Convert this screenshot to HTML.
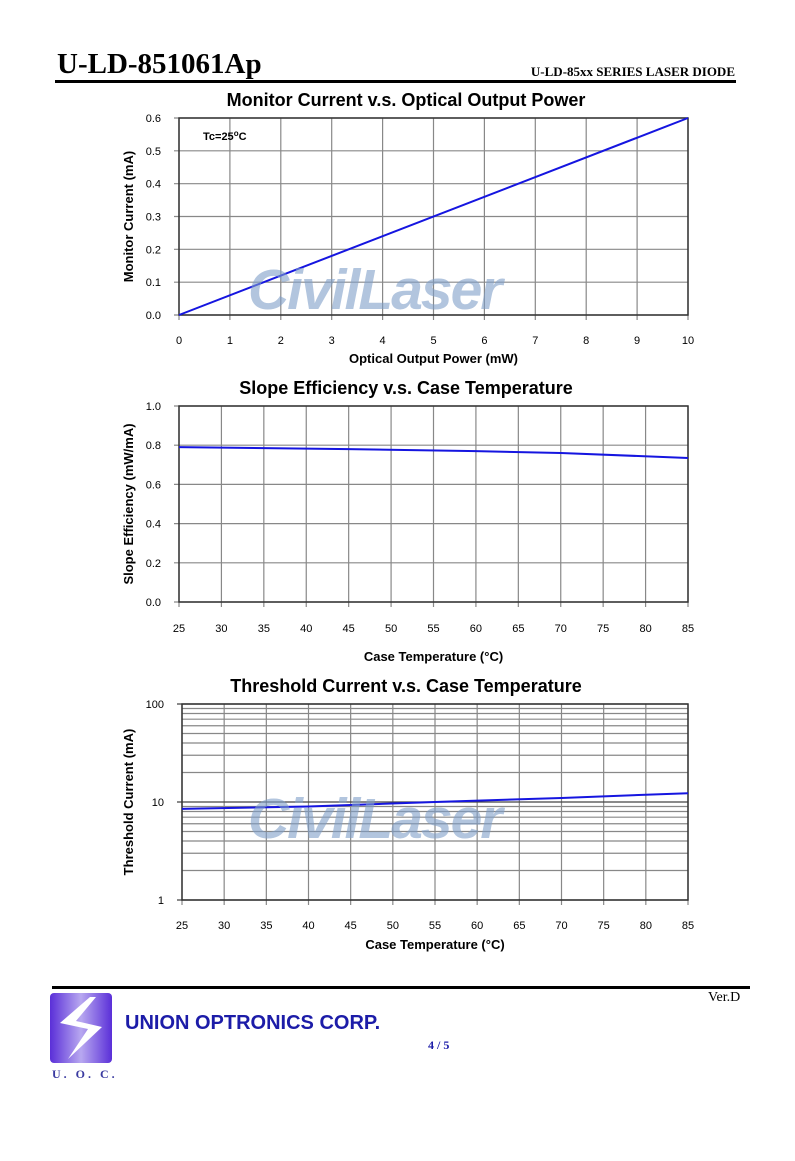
<!DOCTYPE html>
<html><head><meta charset="utf-8"><style>
body{margin:0;background:#fff;}
#root{position:relative;width:795px;height:1161px;overflow:hidden;background:#fff;font-family:"Liberation Sans",sans-serif;}
.abs{position:absolute;}
</style></head><body>
<div id="root">
<div class="abs" style="left:57px;top:48px;font:bold 29px 'Liberation Serif',serif;color:#000;">U-LD-851061Ap</div>
<div class="abs" style="right:60px;top:64px;font:bold 13px 'Liberation Serif',serif;">U-LD-85xx SERIES LASER DIODE</div>
<div class="abs" style="left:55px;top:80px;width:681px;height:3px;background:#000;"></div>
<svg class="abs" style="left:0;top:0" width="795" height="1000" id="charts"></svg>
<div class="abs" style="left:52px;top:986px;width:698px;height:3px;background:#000;"></div>
<div class="abs" style="left:708px;top:990px;font:14px 'Liberation Serif',serif;">Ver.D</div>
<svg class="abs" style="left:50px;top:993px" width="62" height="70">
<defs><linearGradient id="lg" x1="0" x2="1"><stop offset="0" stop-color="#5a2fd8"/><stop offset="0.5" stop-color="#b8a8f0"/><stop offset="1" stop-color="#5a2fd8"/></linearGradient></defs>
<rect x="0" y="0" width="62" height="70" rx="4" fill="url(#lg)"/>
<polygon points="40,4 10,30 38,36 18,66 52,34 26,28 46,4" fill="#fff"/>
</svg>
<div class="abs" style="left:52px;top:1067px;font:bold 12px 'Liberation Serif',serif;color:#3a3aa0;letter-spacing:3px;">U. O. C.</div>
<div class="abs" style="left:125px;top:1012px;font:bold 20px 'Liberation Sans',sans-serif;color:#1c1ca8;">UNION OPTRONICS CORP.</div>
<div class="abs" style="left:428px;top:1038px;font:bold 12px 'Liberation Serif',serif;color:#1c1ca8;">4 / 5</div>
</div>
<script>
const c1X=[0,10];const c1Y=[0,0.6];
const c1Xticks=[0,1,2,3,4,5,6,7,8,9,10];const c1Yticks=[0,0.1,0.2,0.3,0.4,0.5,0.6];
const c2X=[25,45,60,70,85];const c2Y=[0.79,0.78,0.77,0.76,0.735];
const c2Xticks=[25,30,35,40,45,50,55,60,65,70,75,80,85];const c2Yticks=[0,0.2,0.4,0.6,0.8,1.0];
const c3X=[25,40,55,70,85];const c3Y=[8.5,9,10,11,12.3];
const c3Xticks=[25,30,35,40,45,50,55,60,65,70,75,80,85];const c3Yticks=[1,10,100];
const NS="http://www.w3.org/2000/svg";
const svg=document.getElementById('charts');
function mk(t,a,p){const e=document.createElementNS(NS,t);for(const k in a)e.setAttribute(k,a[k]);(p||svg).appendChild(e);return e;}
function txt(x,y,s,a,p){const e=mk('text',Object.assign({x:x,y:y,'font-family':'Liberation Sans, sans-serif'},a),p);e.textContent=s;return e;}
function chart(o){
 const g=mk('g',{});
 
 
 const sx=v=>o.L+(v-o.xmin)/(o.xmax-o.xmin)*(o.R-o.L);
 const sy=o.log?(v=>o.B-(Math.log10(v)-Math.log10(o.ymin))/(Math.log10(o.ymax)-Math.log10(o.ymin))*(o.B-o.T)):(v=>o.B-(v-o.ymin)/(o.ymax-o.ymin)*(o.B-o.T));
 if(o.log){for(let d=1;d<100;d*=10)for(let m=2;m<=9;m++){const l=mk('line',{x1:o.L,x2:o.R,y1:sy(d*m),y2:sy(d*m),stroke:'#888','stroke-width':1.2},g);}}
 o.xt.forEach(v=>{const l=mk('line',{x1:sx(v),x2:sx(v),y1:o.T,y2:o.B+5,stroke:'#888','stroke-width':1.2},g);
  const t=txt(sx(v),o.xly,String(v),{'font-size':11,'text-anchor':'middle'},g);});
 o.yt.forEach(v=>{const l=mk('line',{x1:o.L-5,x2:o.R,y1:sy(v),y2:sy(v),stroke:o.log?'#444':'#888','stroke-width':1.2},g);
  const t=txt(o.L-18,sy(v)+4,o.fmt(v),{'font-size':11,'text-anchor':'end'},g);});
 const f=mk('rect',{x:o.L,y:o.T,width:o.R-o.L,height:o.B-o.T,fill:'none',stroke:'#333','stroke-width':1.5},g);
 const p=mk('polyline',{points:o.xs.map((x,i)=>sx(x)+','+sy(o.ys[i])).join(' '),fill:'none',stroke:'#1515e0','stroke-width':2},g);
 const tt=txt(406,o.T-12,o.title,{'font-size':18,'font-weight':'bold','text-anchor':'middle'},g);
 const xt=txt((o.L+o.R)/2,o.xty,o.xtitle,{'font-size':13,'font-weight':'bold','text-anchor':'middle'},g);
 const yc=(o.T+o.B)/2;const yt=txt(133,yc,o.ytitle,{'font-size':13,'font-weight':'bold','text-anchor':'middle',transform:'rotate(-90 133 '+yc+')'},g);
 return g;
}
chart({name:'monitor-current-chart',L:179,R:688,T:118,B:315,xmin:0,xmax:10,ymin:0,ymax:0.6,xt:c1Xticks,yt:c1Yticks,xs:c1X,ys:c1Y,fmt:v=>v.toFixed(1),xly:344,xty:363,title:'Monitor Current v.s. Optical Output Power',xtitle:'Optical Output Power (mW)',ytitle:'Monitor Current (mA)'});
const tc=txt(203,140,'Tc=25',{'font-size':11,'font-weight':'bold'});
const ts=mk('tspan',{dy:-4,'font-size':8},tc);ts.textContent='o';const ts2=mk('tspan',{dy:4},tc);ts2.textContent='C';
chart({name:'slope-efficiency-chart',L:179,R:688,T:406,B:602,xmin:25,xmax:85,ymin:0,ymax:1,xt:c2Xticks,yt:c2Yticks,xs:c2X,ys:c2Y,fmt:v=>v.toFixed(1),xly:632,xty:661,title:'Slope Efficiency v.s. Case Temperature',xtitle:'Case Temperature (\u00B0C)',ytitle:'Slope Efficiency (mW/mA)'});
chart({name:'threshold-current-chart',L:182,R:688,T:704,B:900,xmin:25,xmax:85,ymin:1,ymax:100,log:true,xt:c3Xticks,yt:c3Yticks,xs:c3X,ys:c3Y,fmt:v=>String(v),xly:929,xty:949,title:'Threshold Current v.s. Case Temperature',xtitle:'Case Temperature (\u00B0C)',ytitle:'Threshold Current (mA)'});
[[309],[838]].forEach(a=>{const w=txt(248,a[0],'CivilLaser',{'font-size':57,'font-weight':'bold','font-style':'italic',fill:'#7f9fc8','fill-opacity':0.6,'letter-spacing':-2});});
</script>
</body></html>
